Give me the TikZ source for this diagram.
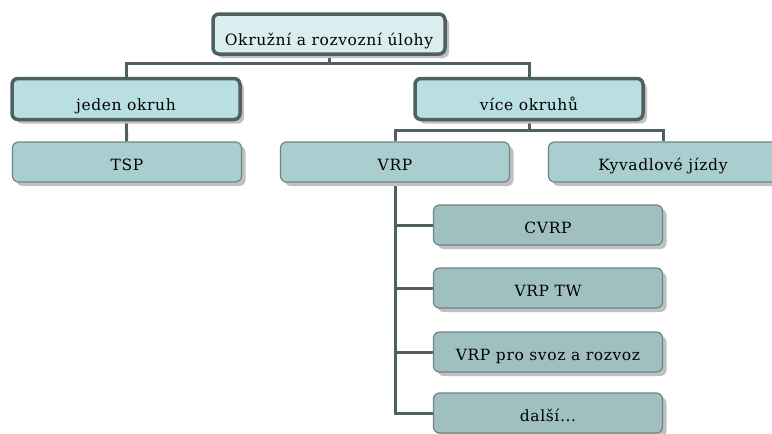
\documentclass[tikz,border=0pt]{standalone}
\usepackage{fontspec}
\setmainfont[LetterSpace=4]{DejaVu Serif}
\usepackage{tikz}
\usetikzlibrary{shadows,backgrounds}
\definecolor{tlink}{RGB}{80,96,96}
\definecolor{tedge}{RGB}{112,132,132}
\definecolor{troot}{RGB}{218,238,240}
\definecolor{tlevelone}{RGB}{186,223,227}
\definecolor{tleveltwo}{RGB}{170,205,208}
\definecolor{tlevelthree}{RGB}{160,191,192}
\definecolor{tshadow}{RGB}{192,192,192}
\tikzstyle{link} = [line width=3pt, color=tlink]
\tikzstyle{basebox} = [rectangle, rounded corners=6pt, inner sep=0pt, text centered, font=\fontsize{15.5}{17}\selectfont, drop shadow={shadow xshift=4pt, shadow yshift=-4pt, fill=tshadow, opacity=1}]
\tikzstyle{mainbox} = [basebox, minimum width=228pt, minimum height=41pt, text height=23pt, text depth=0pt, draw=tlink, line width=3.5pt, fill=tlevelone]
\tikzstyle{subbox} = [basebox, minimum width=229pt, minimum height=40pt, text height=17.5pt, text depth=0pt, draw=tedge, line width=1.2pt, fill=tleveltwo]

\begin{document}
\begin{tikzpicture}[x=1pt, y=-1pt]
\useasboundingbox (0,0) rectangle (772,434);

% Top level
\node[mainbox, fill=troot, minimum width=232pt, minimum height=40pt] (root) at (329,34) {Okružní a rozvozní úlohy};

% One or more tours
\node[mainbox] (jeden) at (126,99) {jeden okruh};
\node[mainbox] (vice) at (529,99) {více okruhů};

% Problems
\node[subbox] (tsp) at (127,162) {TSP};
\node[subbox] (vrp) at (395,162) {VRP};
\node[subbox] (kyv) at (663,162) {Kyvadlové jízdy};

% VRP variants
\node[subbox, fill=tlevelthree] (cvrp) at (548,225) {CVRP};
\node[subbox, fill=tlevelthree] (vrptw) at (548,288) {VRP TW};
\node[subbox, fill=tlevelthree] (svoz) at (548,352) {VRP pro svoz a rozvoz};
\node[subbox, fill=tlevelthree] (dalsi) at (548,413) {další...};

% Connectors
\coordinate (busroot) at (329,63);
\coordinate (busvice) at (529,130);
\begin{scope}[on background layer]
\draw[link] (root) -- (busroot);
\draw[link] (busroot) -| (jeden.north);
\draw[link] (busroot) -| (vice.north);
\draw[link] (jeden) -- (tsp);
\draw[link] (vice) -- (busvice);
\draw[link] (busvice) -| (vrp.north);
\draw[link] (busvice) -| (kyv.north);
\draw[link] (vrp.south) |- (dalsi.west);
\foreach \n in {cvrp,vrptw,svoz} {
    \draw[link] (vrp.south |- \n.west) -- (\n.west);
}
\end{scope}
\end{tikzpicture}
\end{document}
